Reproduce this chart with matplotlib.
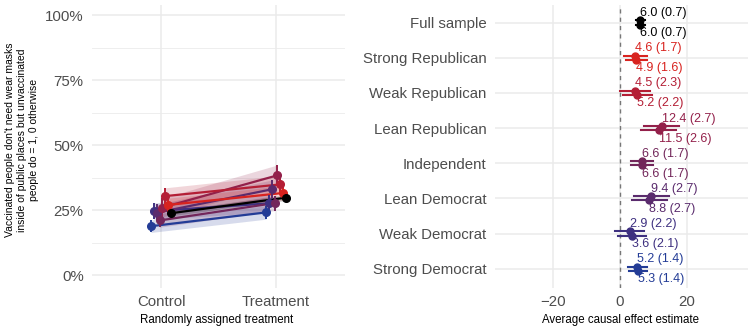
import matplotlib
matplotlib.use("Agg")
import matplotlib.pyplot as plt
import numpy as np

plt.rcParams['font.family'] = ['Liberation Sans', 'DejaVu Sans']

# ---- data ----
groups = ["Strong Democrat", "Weak Democrat", "Lean Democrat", "Independent",
          "Lean Republican", "Weak Republican", "Strong Republican", "Full sample"]
colors = ["#233c96", "#3e3080", "#5a2b6d", "#72265a",
          "#93204a", "#b41e35", "#d8231f", "#000000"]

# left panel: share (%) by arm, with CI half-widths
control_pct = [18.8, 24.6, 24.0, 21.0, 26.0, 30.4, 27.0, 23.8]
treatment_pct = [24.1, 27.6, 33.0, 27.7, 38.4, 34.9, 31.6, 29.8]
control_ci = [2.4, 3.2, 3.2, 2.6, 3.6, 3.2, 2.6, 1.0]
treatment_ci = [2.6, 3.4, 3.6, 2.9, 4.0, 3.4, 2.8, 1.1]
arm_labels = ["Control", "Treatment"]

# right panel: two estimates per group (upper / lower) with std. errors
est_upper = [5.2, 2.9, 9.4, 6.6, 12.4, 4.5, 4.6, 6.0]
se_upper = [1.4, 2.2, 2.7, 1.7, 2.7, 2.3, 1.7, 0.7]
est_lower = [5.3, 3.6, 8.8, 6.6, 11.5, 5.2, 4.9, 6.0]
se_lower = [1.4, 2.1, 2.7, 1.7, 2.6, 2.2, 1.6, 0.7]

W, H = 750, 328
fig = plt.figure(figsize=(7.5, 3.28), dpi=100)

def axes_px(l, t, r, b):
    return fig.add_axes([l / W, 1 - b / H, (r - l) / W, (b - t) / H])

grid_c = "#ebebeb"
tick_c = "#4d4d4d"
tick_fs = 10.8
title_fs = 8.3

# ---- left panel ----
ax1 = axes_px(92, 5, 345, 288)
ax1.set_xlim(0.4, 2.6)
ax1.set_ylim(-5, 104)
n = len(groups)
offs = (np.arange(n) - (n - 1) / 2) * 0.025
for i in range(n):
    xs = np.array([1, 2]) + offs[i]
    ys = np.array([control_pct[i], treatment_pct[i]])
    cis = np.array([control_ci[i], treatment_ci[i]])
    ax1.fill_between(xs, ys - cis, ys + cis, color=colors[i], alpha=0.18, lw=0, zorder=2)
for i in range(n):
    xs = np.array([1, 2]) + offs[i]
    ys = np.array([control_pct[i], treatment_pct[i]])
    cis = np.array([control_ci[i], treatment_ci[i]])
    ax1.plot(xs, ys, color=colors[i], lw=1.6, zorder=3)
    ax1.errorbar(xs, ys, yerr=cis, fmt='o', color=colors[i], ms=5.5, elinewidth=1.4,
                 capsize=0, zorder=4)
ax1.set_yticks([0, 25, 50, 75, 100])
ax1.set_yticklabels(["0%", "25%", "50%", "75%", "100%"])
ax1.set_yticks([12.5, 37.5, 62.5, 87.5], minor=True)
ax1.set_xticks([1, 2])
ax1.set_xticklabels(arm_labels)
ax1.grid(True, which='major', color=grid_c, lw=1.1, zorder=0)
ax1.grid(True, which='minor', axis='y', color=grid_c, lw=0.6, zorder=0)
ax1.set_axisbelow(True)
ax1.tick_params(which='both', length=0, labelsize=tick_fs, colors=tick_c)
ax1.tick_params(axis='y', pad=6)
ax1.tick_params(axis='x', pad=5)
for s in ax1.spines.values():
    s.set_visible(False)

fig.text(217 / W, 1 - 320 / H, "Randomly assigned treatment", ha='center', va='center', fontsize=title_fs)
fig.text(22 / W, 1 - 140 / H,
         "Vaccinated people don't need wear masks\ninside of public places but unvaccinated\npeople do = 1, 0 otherwise",
         ha='center', va='center', rotation=90, fontsize=7.5, linespacing=1.2)

# ---- right panel ----
ax2 = axes_px(495, 5, 748, 288)
ax2.set_xlim(-37.3, 38.2)
ax2.set_ylim(0.45, 8.5)
ypos = np.arange(1, n + 1)  # Strong Democrat at 1 ... Full sample at 8
dy = 0.06
ax2.axvline(0, color="#777777", ls=(0, (3, 3)), lw=1.0, zorder=1)
for i in range(n):
    y = ypos[i]
    for est, se, yy, lab_va, lab_dy in [
        (est_upper[i], se_upper[i], y + dy, 'bottom', 0.04),
        (est_lower[i], se_lower[i], y - dy, 'top', -0.07),
    ]:
        ax2.plot([est - 1.96 * se, est + 1.96 * se], [yy, yy], color=colors[i], lw=1.5, zorder=3)
        ax2.plot([est], [yy], 'o', color=colors[i], ms=5, zorder=4)
        ax2.text(est, yy + lab_dy, f"{est:.1f} ({se:.1f})", color=colors[i], fontsize=9,
                 ha='left', va=lab_va, zorder=5)
ax2.set_yticks(ypos)
ax2.set_yticklabels(groups)
ax2.set_xticks([-20, 0, 20])
ax2.grid(True, which='major', color=grid_c, lw=1.1, zorder=0)
ax2.set_axisbelow(True)
ax2.tick_params(which='both', length=0, labelsize=tick_fs, colors=tick_c)
ax2.tick_params(axis='y', pad=6)
ax2.tick_params(axis='x', pad=5)
for s in ax2.spines.values():
    s.set_visible(False)
fig.text(621 / W, 1 - 320 / H, "Average causal effect estimate", ha='center', va='center', fontsize=title_fs)

fig.savefig("out.png", dpi=100)
